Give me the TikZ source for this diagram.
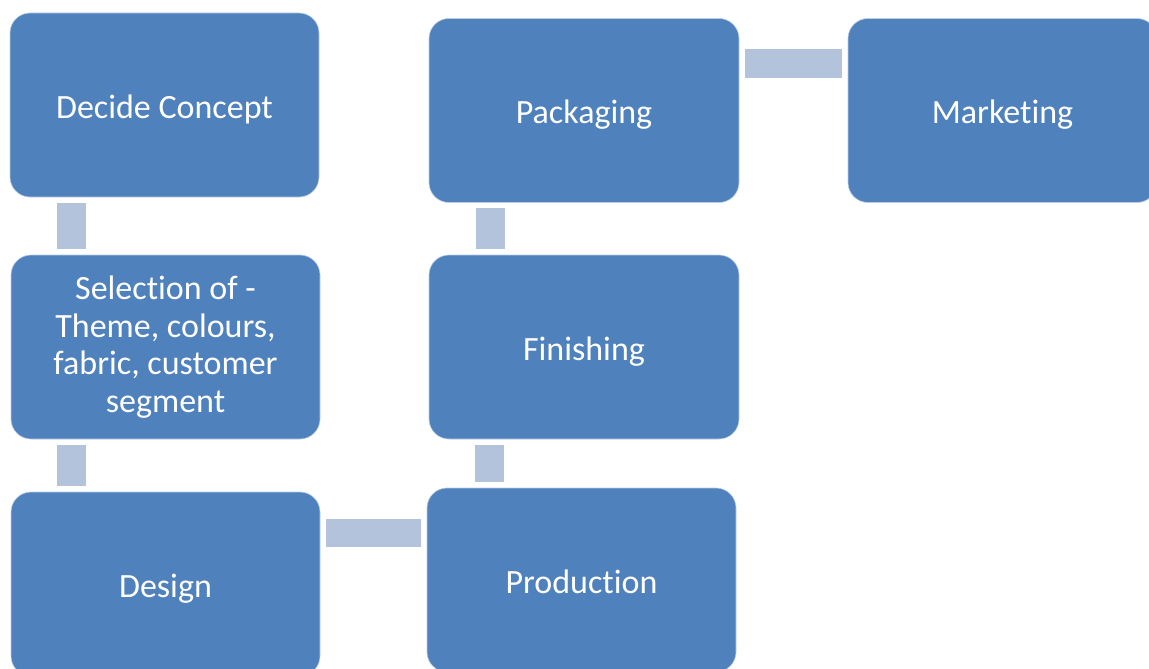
\documentclass[tikz,border=0pt]{standalone}
\usepackage{fontspec}
\setmainfont[Ligatures={NoCommon}]{Carlito}
\definecolor{boxblue}{HTML}{4F81BD}
\definecolor{connblue}{HTML}{B3C3DC}
\begin{document}
\begin{tikzpicture}[x=1pt,y=-1pt,
  stepbox/.style={rectangle, rounded corners=20pt, fill=boxblue, draw=white!60!boxblue, line width=0.6pt,
    minimum width=309pt, minimum height=184pt, inner sep=0pt, text=white, align=center,
    font=\fontsize{34pt}{37.5pt}\selectfont},
  oneline/.style={text height=33pt, text depth=7pt},
  conn/.style={draw=connblue, line width=28.5pt, shorten <=5.5pt, shorten >=5.5pt}]
\useasboundingbox (0,0) rectangle (1149,669);
\clip (0,0) rectangle (1149,669);
\node[stepbox, oneline] (decide) at (164.5,105) {Decide Concept};
\node[stepbox] (select) at (165.5,347) {Selection of -\\Theme, colours,\\fabric, customer\\segment};
\node[stepbox, oneline] (design) at (165.5,584) {Design};
\node[stepbox, oneline] (prod) at (581.5,580) {Production};
\node[stepbox, oneline, minimum width=310pt] (finish) at (584,347) {Finishing};
\node[stepbox, oneline, minimum width=310pt] (pack) at (584,110.5) {Packaging};
\node[stepbox, oneline] (market) at (1002.5,110.5) {Marketing};
\coordinate (lx) at (71.5,0);
\coordinate (rx1) at (489.5,0);
\coordinate (rx2) at (490.5,0);
\coordinate (hy1) at (0,533);
\coordinate (hy2) at (0,63.5);
\draw[conn] (decide.south -| lx) -- (select.north -| lx);
\draw[conn] (select.south -| lx) -- (design.north -| lx);
\draw[conn] (design.east |- hy1) -- (prod.west |- hy1);
\draw[conn] (prod.north -| rx1) -- (finish.south -| rx1);
\draw[conn] (finish.north -| rx2) -- (pack.south -| rx2);
\draw[conn] (pack.east |- hy2) -- (market.west |- hy2);
\end{tikzpicture}
\end{document}
